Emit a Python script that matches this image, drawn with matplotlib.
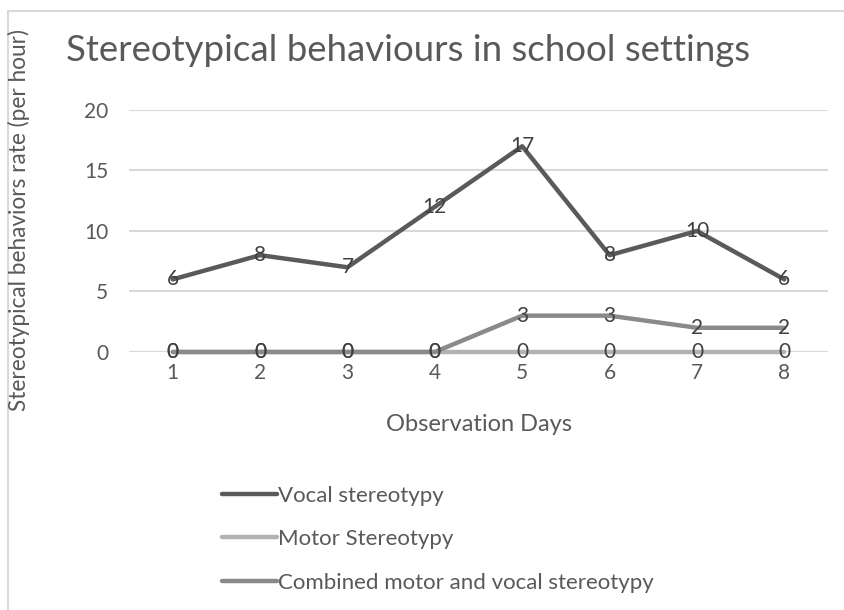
import matplotlib.pyplot as plt
from matplotlib.patches import Rectangle

plt.rcParams['font.family'] = ['Lato', 'DejaVu Sans']

## data
days = [1, 2, 3, 4, 5, 6, 7, 8]
vocal = [6, 8, 7, 12, 17, 8, 10, 6]
motor = [0, 0, 0, 0, 0, 0, 0, 0]
combined = [0, 0, 0, 0, 3, 3, 2, 2]

series = [
    ('Vocal stereotypy', vocal, '#5a5a5a'),
    ('Motor Stereotypy', motor, '#b2b2b2'),
    ('Combined motor and vocal stereotypy', combined, '#8a8a8a'),
]

text_col = '#595959'

fig = plt.figure(figsize=(8.45, 6.1), dpi=100)
ax = fig.add_axes([0.1527, 0.423, 0.8272, 0.3967])

# chart frame
fig.patches.append(Rectangle((8 / 845, -0.1), 1.2, (610 - 11) / 610 + 0.1,
                             transform=fig.transFigure, fill=False,
                             edgecolor='#d9d9d9', linewidth=1.5))

handles = []
for name, vals, col in series:
    h, = ax.plot(days, vals, color=col, linewidth=3.2, solid_capstyle='round',
                 clip_on=False, label=name, zorder=3)
    handles.append(h)
    for x, v in zip(days, vals):
        ax.text(x, v, str(v), ha='center', va='center', fontsize=15,
                color='#404040', zorder=4)

ax.set_xlim(0.5, 8.5)
ax.set_ylim(0, 20)
ax.set_yticks([0, 5, 10, 15, 20])
ax.set_xticks(days)
ax.grid(axis='y', color='#d9d9d9', linewidth=1.5)
ax.set_axisbelow(True)
for s in ax.spines.values():
    s.set_visible(False)
ax.tick_params(length=0, labelsize=15, labelcolor=text_col, pad=8)
ax.tick_params(axis='y', pad=15)

ax.set_xlabel('Observation Days', fontsize=17, color=text_col, labelpad=22)
fig.text(0.022, 0.64, 'Stereotypical behaviors rate (per hour)', rotation=90,
         ha='center', va='center', fontsize=16.3, color=text_col)

fig.text(0.483, 0.918, 'Stereotypical behaviours in school settings',
         ha='center', va='center', fontsize=26.4, color=text_col)

fig.legend(handles=handles, loc='upper left', bbox_to_anchor=(0.252, 0.218),
           frameon=False, fontsize=16, labelcolor=text_col, handlelength=2.5,
           handletextpad=0.05, labelspacing=1.05, borderaxespad=0)

fig.savefig('out.png', dpi=100)
